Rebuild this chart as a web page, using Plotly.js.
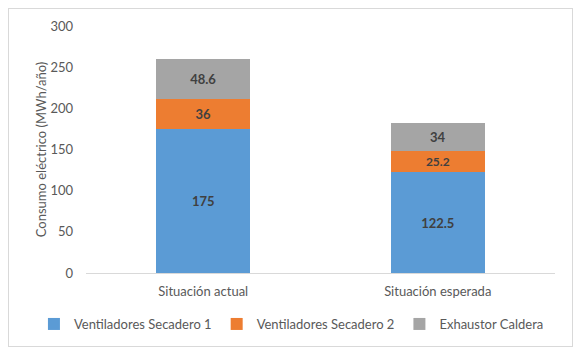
<!DOCTYPE html>
<html><head><meta charset="utf-8">
<script src="https://cdn.plot.ly/plotly-3.0.1.min.js"></script>
<style>
html,body{margin:0;padding:0;background:#fff;}
#wrap{position:relative;width:581px;height:353px;}
#chart{width:581px;height:353px;}
#frame{position:absolute;left:8px;top:8px;width:563px;height:337px;border:1px solid #d9d9d9;pointer-events:none;}
</style></head>
<body>
<div id="wrap"><div id="chart"></div><div id="frame"></div></div>
<script>
const categories = ["Situación actual", "Situación esperada"];
const seriesNames = ["Ventiladores Secadero 1", "Ventiladores Secadero 2", "Exhaustor Caldera"];
const secadero1 = [175, 122.5];
const secadero2 = [36, 25.2];
const caldera = [48.6, 34];
const colors = ["#5B9BD5", "#ED7D31", "#A5A5A5"];
const allSeries = [secadero1, secadero2, caldera];

const font = "Lato, 'Open Sans', sans-serif";
const traces = allSeries.map((vals, i) => ({
  type: "bar",
  name: seriesNames[i],
  x: categories,
  y: vals,
  marker: {color: colors[i]},
  text: vals.map(v => String(v)),
  textposition: "inside",
  insidetextanchor: "middle",
  textfont: {family: font, size: 13, color: "#404040", weight: "bold"},
  hoverinfo: "none"
}));

const layout = {
  width: 581, height: 353,
  barmode: "stack",
  bargap: 0.6,
  margin: {l: 86, r: 26, t: 26, b: 80, autoexpand: false},
  paper_bgcolor: "rgba(0,0,0,0)",
  plot_bgcolor: "#fff",
  font: {family: font, size: 13, color: "#595959"},
  showlegend: true,
  legend: {orientation: "h", x: -0.111, xanchor: "left",
           y: -0.2065, yanchor: "middle",
           font: {family: font, size: 13, color: "#595959"}, traceorder: "normal",
           itemwidth: 30, tracegroupgap: 0},
  xaxis: {showline: true, linecolor: "#d9d9d9", linewidth: 1, ticks: "", showgrid: false,
          ticklabelstandoff: 6,
          tickfont: {family: font, size: 13, color: "#595959"}},
  yaxis: {range: [0, 300], dtick: 50, showgrid: false, zeroline: false, showline: false,
          ticks: "", ticklabelstandoff: 12, tickfont: {family: font, size: 13, color: "#595959"},
          title: {text: "Consumo eléctrico (MWh/año)", font: {family: font, size: 13, color: "#595959"}, standoff: 0}}
};

Plotly.newPlot("chart", traces, layout, {displayModeBar: false, staticPlot: true});
</script>
</body></html>
